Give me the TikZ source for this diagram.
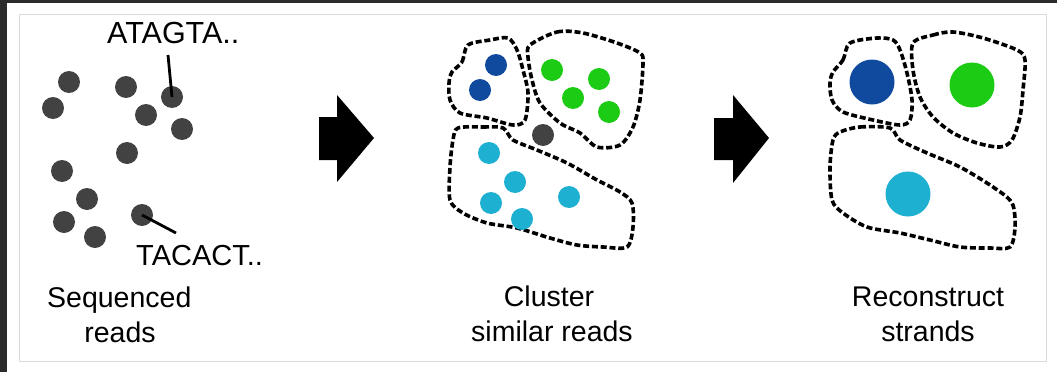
\documentclass[tikz,border=0pt]{standalone}
\usepackage{fontspec}
\setmainfont{Liberation Sans}
\definecolor{framedark}{HTML}{2B2B2B}
\definecolor{frameline}{HTML}{DADADA}
\definecolor{readgray}{HTML}{424242}
\definecolor{rblue}{HTML}{104A9E}
\definecolor{rgreen}{HTML}{1CCC14}
\definecolor{rcyan}{HTML}{1EB0D0}
\begin{document}
\begin{tikzpicture}[x=1pt,y=-1pt,
  dot/.style={circle,inner sep=0pt,minimum size=22pt,fill=#1},
  bigdot/.style={circle,inner sep=0pt,minimum size=45pt,fill=#1},
  lbl/.style={inner sep=0pt,anchor=base west,font=\fontsize{29}{34}\selectfont},
  caption/.style={inner sep=0pt,anchor=base,font=\fontsize{28.5}{34}\selectfont},
  lead/.style={line width=2.8pt},
  blob/.style={draw=black,line width=3.6pt,dash pattern=on 6pt off 2.8pt},
  bigarrow/.style={fill=black}]
\useasboundingbox (0,0) rectangle (1057,372);
\fill[white] (0,0) rectangle (1057,372);
\fill[framedark] (0,0) rectangle (7,372);
\fill[framedark] (0,0) rectangle (1057,2.5);
\draw[frameline,line width=1pt] (19,14) rectangle (1046,361);

% ---- panel 1: sequenced reads
\node[dot=readgray,minimum height=20pt] (d1) at (69,82) {};
\node[dot=readgray] (d2) at (53,108) {};
\node[dot=readgray] (d3) at (126,87) {};
\node[dot=readgray] (d4) at (172,97) {};
\node[dot=readgray] (d5) at (146,115) {};
\node[dot=readgray] (d6) at (182,129) {};
\node[dot=readgray] (d7) at (127,153) {};
\node[dot=readgray] (d8) at (62,171) {};
\node[dot=readgray] (d9) at (87,199) {};
\node[dot=readgray] (d10) at (64,222) {};
\node[dot=readgray] (d11) at (95,237) {};
\node[dot=readgray] (d12) at (142,215) {};
\node[lbl,font=\fontsize{30.5}{34}\selectfont] (la) at (107,43) {ATAGTA..};
\node[lbl] (lt) at (136,265) {TACACT..};
\coordinate (la-end) at (168,55);
\coordinate (lt-end) at (176,233);
\draw[lead] (d4.center) -- (la-end);
\draw[lead] (d12.center) -- (lt-end);
\node[caption,anchor=base west] (c1a) at (47,307) {Sequenced};
\node[caption] (c1b) at (120,342) {reads};

% ---- arrows
\fill[bigarrow] (319,117) -- (337,117) -- (337,95) -- (374,138) -- (337,182) -- (337,160) -- (319,160) -- cycle;
\fill[bigarrow] (714,118) -- (733,118) -- (733,95) -- (769,138) -- (733,183) -- (733,160) -- (714,160) -- cycle;

% ---- panel 2: clusters
\draw[blob] plot[smooth cycle,tension=0.5] coordinates {
  (452,72) (462,62) (468,45) (490,40) (508,38) (517,50) (523,70) (528,93)
  (525,120) (513,125) (487,118) (460,113) (450,100) (449,83)};
\draw[blob] plot[smooth cycle,tension=0.5] coordinates {
  (530,45) (557,32) (583,33) (617,43) (640,53) (643,63) (640,100) (633,127)
  (620,145) (597,147) (580,133) (560,123) (540,103) (532,80) (528,57)};
\draw[blob] plot[smooth cycle,tension=0.5] coordinates {
  (458,128) (483,127) (503,128) (513,140) (537,150) (567,163) (597,180)
  (620,192) (632,203) (633,227) (627,247) (603,247) (577,245) (550,238)
  (517,228) (487,223) (463,213) (450,200) (450,167) (453,140)};
\node[dot=rblue] (b1) at (496,65) {};
\node[dot=rblue] (b2) at (480,90) {};
\node[dot=rgreen] (g1) at (552,70) {};
\node[dot=rgreen] (g2) at (599,79) {};
\node[dot=rgreen] (g3) at (573,98) {};
\node[dot=rgreen] (g4) at (609,112) {};
\node[dot=readgray] (o1) at (543,135) {};
\node[dot=rcyan] (c1) at (489,153) {};
\node[dot=rcyan] (c2) at (515,182) {};
\node[dot=rcyan] (c3) at (569,197) {};
\node[dot=rcyan] (c4) at (491,203) {};
\node[dot=rcyan] (c5) at (522,219) {};
\node[caption] (c2a) at (549,306) {Cluster};
\node[caption] (c2b) at (552,341) {similar reads};

% ---- panel 3: reconstructed strands
\draw[blob] plot[smooth cycle,tension=0.5] coordinates {
  (833,72) (843,60) (850,43) (877,38) (893,40) (900,50) (907,73) (912,100)
  (910,120) (900,125) (873,120) (843,112) (832,100) (830,83)};
\draw[blob] plot[smooth cycle,tension=0.5] coordinates {
  (913,43) (933,35) (953,32) (983,38) (1017,50) (1025,60) (1023,90)
  (1020,117) (1012,140) (1000,147) (977,143) (953,133) (933,117) (920,97) (913,70)};
\draw[blob] plot[smooth cycle,tension=0.5] coordinates {
  (840,132) (860,127) (890,128) (900,140) (927,153) (960,167) (993,187)
  (1012,203) (1015,227) (1010,247) (990,248) (960,247) (930,240) (900,233)
  (867,227) (843,213) (832,200) (830,167) (833,140)};
\node[bigdot=rblue] (sb) at (872,82) {};
\node[bigdot=rgreen] (sg) at (972,85) {};
\node[bigdot=rcyan] (sc) at (908,194) {};
\node[caption] (c3a) at (928,306) {Reconstruct};
\node[caption] (c3b) at (928,341) {strands};
\end{tikzpicture}
\end{document}
